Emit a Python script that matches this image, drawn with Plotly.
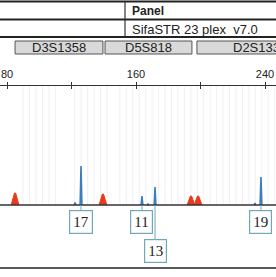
import plotly.graph_objects as go
import numpy as np

# ---------------- data ----------------
panel_name = "SifaSTR 23 plex_v7.0"
markers = ["D3S1358", "D5S818", "D2S1338"]
marker_start = [85.0, 140.8, 197.8]
marker_end = [139.5, 194.7, 276.0]

bin_start = [90, 122, 150, 202]
bin_end = [113, 144, 198, 247]
bin_step = 4

tick_vals = [80, 120, 160, 200, 240]
tick_text = ["80", "", "160", "", "240"]

# size-standard (red) peaks
std_pos = [85.0, 139.5, 194.1, 198.5]
std_height = [300, 275, 225, 225]

# sample (blue) peaks incl. stutter
blue_pos = [122.2, 125.9, 163.7, 167.4, 171.8, 233.8, 237.5]
blue_height = [60, 975, 225, 25, 450, 50, 700]

# allele calls
allele_labels = ["17", "11", "13", "19"]
allele_pos = [125.9, 163.7, 171.8, 237.5]
allele_row = [0, 0, 1, 0]

# ---------------- figure ----------------
W, H = 276, 277
K = 25.0  # RFU per pixel
base_px = 205
YMIN, YMAX = -(H - base_px) * K, base_px * K


def py(px):  # pixel row -> paper fraction
    return 1 - px / H


def ry(px):  # pixel row -> RFU
    return (base_px - px) * K


fig = go.Figure()

# bin lines
bx, byv = [], []
for s, e in zip(bin_start, bin_end):
    for b in np.arange(s, e + 0.01, bin_step):
        bx += [b, b, None]
        byv += [0, ry(86), None]
fig.add_trace(go.Scatter(x=bx, y=byv, mode="lines", line=dict(color="#f1f1f1", width=1),
                         hoverinfo="skip", showlegend=False))

# red size-standard peaks
for p, h in zip(std_pos, std_height):
    fig.add_trace(go.Scatter(x=[p - 2.4, p - 1.2, p - 0.35, p + 0.35, p + 1.2, p + 2.4],
                             y=[0, h * 0.55, h, h, h * 0.55, 0],
                             mode="lines", fill="toself", fillcolor="#e83a1c",
                             line=dict(color="#e83a1c", width=1),
                             hoverinfo="skip", showlegend=False))

# blue peaks
for p, h in zip(blue_pos, blue_height):
    fig.add_trace(go.Scatter(x=[p - 0.55, p, p + 0.55], y=[0, h, 0], mode="lines",
                             line=dict(color="#3b7dbd", width=1.6),
                             hoverinfo="skip", showlegend=False))

# dummy trace for second (downward-tick) axis
fig.add_trace(go.Scatter(x=[100], y=[0], xaxis="x2", mode="markers", marker=dict(opacity=0),
                         hoverinfo="skip", showlegend=False))

shapes = []
annotations = []

# table rows
for px in [1.5, 19.5, 37]:
    shapes.append(dict(type="line", xref="paper", yref="paper", x0=0, x1=1, y0=py(px), y1=py(px),
                       line=dict(color="#222", width=2)))
shapes.append(dict(type="line", xref="paper", yref="paper", x0=125 / W, x1=125 / W, y0=py(2), y1=py(37),
                   line=dict(color="#333", width=1.2)))
annotations.append(dict(text="<b>Panel</b>", xref="paper", yref="paper", x=129.5 / W, y=py(11),
                        xanchor="left", yanchor="middle", showarrow=False,
                        font=dict(family="Liberation Sans, Arial", size=12, color="#222")))
annotations.append(dict(text=panel_name, xref="paper", yref="paper", x=129.5 / W, y=py(29),
                        xanchor="left", yanchor="middle", showarrow=False,
                        font=dict(family="Liberation Sans, Arial", size=13, color="#222")))

# marker boxes
for m, s, e in zip(markers, marker_start, marker_end):
    shapes.append(dict(type="rect", xref="x", yref="paper", x0=s, x1=e, y0=py(54), y1=py(41),
                       fillcolor="#d9d9d9", line=dict(color="#555", width=1)))
    annotations.append(dict(text=m, xref="x", yref="paper", x=(s + e) / 2, y=py(47.5),
                            xanchor="center", yanchor="middle", showarrow=False,
                            font=dict(family="Liberation Sans, Arial", size=13, color="#222")))

# baseline and bottom line
shapes.append(dict(type="line", xref="paper", yref="y", x0=0, x1=1, y0=0, y1=0,
                   line=dict(color="#333", width=1.6)))
shapes.append(dict(type="line", xref="paper", yref="paper", x0=0, x1=1, y0=py(268), y1=py(268),
                   line=dict(color="#222", width=1.5)))

# allele labels
for lab, p, r in zip(allele_labels, allele_pos, allele_row):
    top_px = 211 if r == 0 else 240
    shapes.append(dict(type="line", xref="x", yref="y", x0=p, x1=p, y0=0, y1=ry(top_px),
                       line=dict(color="#6fa9b8", width=1)))
    annotations.append(dict(text=lab, xref="x", yref="y", x=p, y=ry(top_px + 11),
                            xanchor="center", yanchor="middle", showarrow=False,
                            bgcolor="white", bordercolor="#6fa9b8", borderwidth=1.2, borderpad=3,
                            font=dict(family="Liberation Serif, Times New Roman", size=15, color="#222")))

xr = [80 - 7 / 1.6125, 80 + 269 / 1.6125]
fig.update_layout(
    width=W, height=H, margin=dict(l=0, r=0, t=0, b=0),
    paper_bgcolor="white", plot_bgcolor="white", showlegend=False,
    shapes=shapes, annotations=annotations,
    xaxis=dict(range=xr, anchor="free", position=py(85), side="top", showline=True,
               linecolor="#333", linewidth=1.2, ticks="outside", ticklen=3, tickcolor="#333",
               tickvals=tick_vals, ticktext=tick_text, showgrid=False, zeroline=False,
               tickfont=dict(family="Liberation Sans, Arial", size=11, color="#222")),
    xaxis2=dict(range=xr, overlaying="x", anchor="free", position=py(85), side="bottom",
                showline=False, ticks="outside", ticklen=3, tickcolor="#333",
                tickvals=tick_vals, showticklabels=False, showgrid=False, zeroline=False),
    yaxis=dict(range=[YMIN, YMAX], visible=False, showgrid=False, zeroline=False),
)

fig.write_html("out.html")
